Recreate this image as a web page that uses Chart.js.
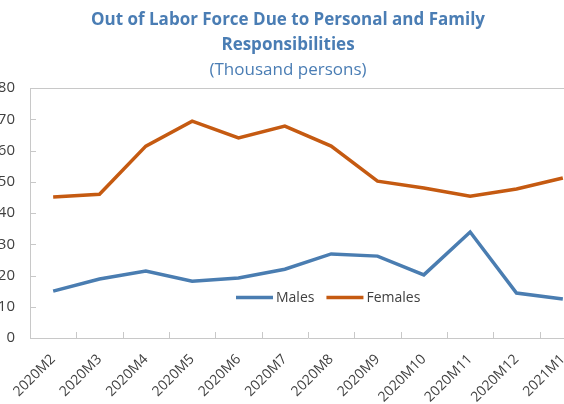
<!DOCTYPE html>
<html>
<head>
<meta charset="utf-8">
<script src="https://cdn.jsdelivr.net/npm/chart.js@4"></script>
<style>
    html, body { margin: 0; padding: 0; background: #fff; overflow: hidden; }
    #marco { position: relative; width: 564px; height: 404px; overflow: hidden; }
    #lienzo { position: absolute; left: -10px; top: 0; width: 604px; height: 404px; }
</style>
</head>
<body>
<div id="marco">
    <div id="lienzo"><canvas id="myChart"></canvas></div>
</div>
<script>
const meses = ['2020M2', '2020M3', '2020M4', '2020M5', '2020M6', '2020M7', '2020M8', '2020M9', '2020M10', '2020M11', '2020M12', '2021M1'];
const hombres = [15.0, 18.9, 21.4, 18.2, 19.2, 22.0, 26.9, 26.2, 20.2, 33.9, 14.4, 12.5];
const mujeres = [45.1, 46.0, 61.4, 69.4, 64.0, 67.8, 61.4, 50.2, 48.0, 45.4, 47.7, 51.2];
const ejeY = [0, 10, 20, 30, 40, 50, 60, 70, 80];

const AZUL = '#4a7db1';
const NARANJA = '#c55a11';
const FUENTE = "'Open Sans', 'Noto Sans', sans-serif";

// bordes del area de trazado y marcas hacia adentro, como en Excel
var bordes = {
    id: 'bordes',
    afterDraw(chart) {
        var ctx = chart.ctx;
        var a = chart.chartArea;
        var x = chart.scales.x;
        var y = chart.scales.y;
        ctx.save();
        ctx.strokeStyle = '#c8c8c8';
        ctx.lineWidth = 1;
        ctx.beginPath();
        ctx.moveTo(a.left, Math.round(a.top) + 0.5);
        ctx.lineTo(a.right, Math.round(a.top) + 0.5);
        ctx.moveTo(Math.round(a.right) + 0.5, a.top);
        ctx.lineTo(Math.round(a.right) + 0.5, a.bottom);
        for (var i = 0; i < y.ticks.length; i++) {
            var py = Math.round(y.getPixelForTick(i)) + 0.5;
            ctx.moveTo(a.left, py);
            ctx.lineTo(a.left + 6, py);
        }
        for (var j = 1; j < x.ticks.length; j++) {
            var px = Math.round((x.getPixelForTick(j - 1) + x.getPixelForTick(j)) / 2) + 0.5;
            ctx.moveTo(px, a.bottom);
            ctx.lineTo(px, a.bottom - 6);
        }
        ctx.stroke();
        ctx.restore();
    }
};

// leyenda dentro del grafico
var leyenda = {
    id: 'leyenda',
    afterDatasetsDraw(chart) {
        var ctx = chart.ctx;
        var x = chart.scales.x;
        var y = chart.scales.y;
        var sets = chart.data.datasets;
        ctx.save();
        ctx.font = '14px ' + FUENTE;
        var largo = 37, hueco = 3, separa = 12;
        var total = 0;
        for (var i = 0; i < sets.length; i++) {
            total += largo + hueco + ctx.measureText(sets[i].label).width;
            if (i > 0) total += separa;
        }
        var cx = x.getPixelForValue(6) - 3;
        var cy = y.getPixelForValue(13);
        var pos = cx - total / 2;
        ctx.textBaseline = 'middle';
        ctx.textAlign = 'left';
        for (var k = 0; k < sets.length; k++) {
            ctx.strokeStyle = sets[k].borderColor;
            ctx.lineWidth = 3.5;
            ctx.beginPath();
            ctx.moveTo(pos, cy);
            ctx.lineTo(pos + largo, cy);
            ctx.stroke();
            pos += largo + hueco;
            ctx.fillStyle = '#404040';
            ctx.fillText(sets[k].label, pos, cy + 1);
            pos += ctx.measureText(sets[k].label).width + separa;
        }
        ctx.restore();
    }
};

var ctx = document.getElementById('myChart').getContext('2d');
var myChart = new Chart(ctx, {
    type: 'line',
    data: {
        labels: meses,
        datasets: [{
            label: 'Males',
            data: hombres,
            borderColor: AZUL,
            backgroundColor: AZUL,
            borderWidth: 3.5,
            pointRadius: 0,
            tension: 0
        },
        {
            label: 'Females',
            data: mujeres,
            borderColor: NARANJA,
            backgroundColor: NARANJA,
            borderWidth: 3.5,
            pointRadius: 0,
            tension: 0
        }]
    },
    options: {
        responsive: true,
        maintainAspectRatio: false,
        animation: false,
        layout: { padding: { left: 0, right: 8, top: 0, bottom: 0 } },
        plugins: {
            legend: { display: false },
            tooltip: { enabled: false },
            title: {
                display: true,
                text: ['Out of Labor Force Due to Personal and Family', 'Responsibilities'],
                color: '#4a7db4',
                font: { family: FUENTE, size: 17, weight: 'bold', lineHeight: 25 / 17 },
                padding: { top: 8, bottom: 0 }
            },
            subtitle: {
                display: true,
                text: '(Thousand persons)',
                color: '#4a7db4',
                font: { family: FUENTE, size: 17, lineHeight: 25 / 17 },
                padding: { top: 0, bottom: 5 }
            }
        },
        scales: {
            x: {
                offset: true,
                afterFit: function (scale) {
                    scale.height = 66;
                    scale.paddingLeft = 0;
                    scale.paddingRight = 0;
                },
                grid: { display: false, drawTicks: false, offset: true },
                border: { display: true, color: '#c8c8c8' },
                ticks: {
                    color: '#404040',
                    font: { family: FUENTE, size: 14 },
                    minRotation: 45,
                    maxRotation: 45,
                    autoSkip: false,
                    padding: 13
                }
            },
            y: {
                min: 0,
                max: 80,
                afterFit: function (scale) { scale.width = 40; },
                afterBuildTicks: function (scale) {
                    scale.ticks = ejeY.map((v) => ({ value: v }));
                },
                grid: { display: false, drawTicks: false },
                border: { display: true, color: '#c8c8c8' },
                ticks: {
                    color: '#404040',
                    font: { family: FUENTE, size: 15 },
                    padding: 15
                }
            }
        }
    },
    plugins: [bordes, leyenda]
});
</script>
</body>
</html>
